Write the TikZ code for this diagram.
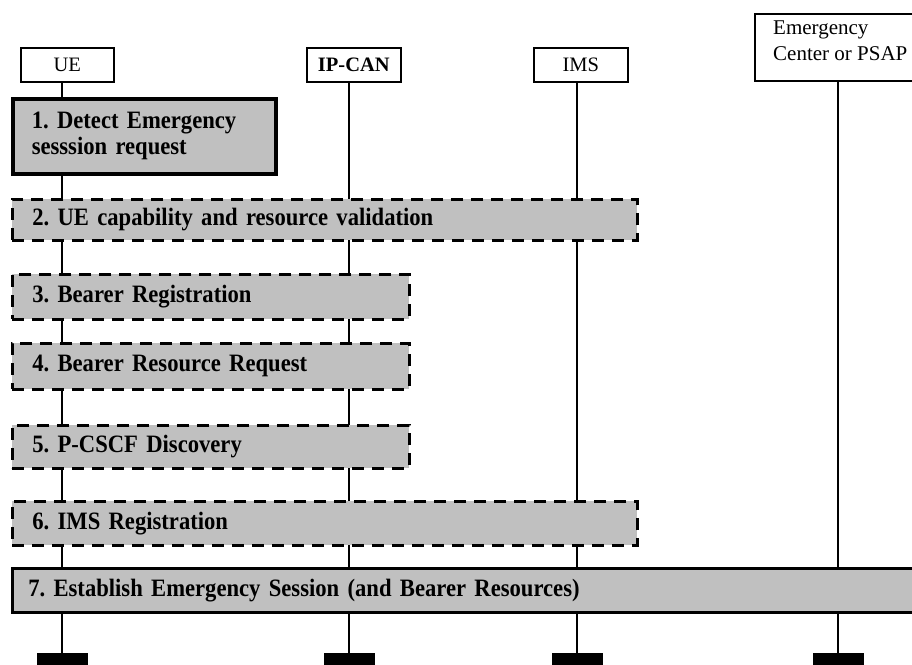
\documentclass[tikz,border=0pt]{standalone}
\usepackage{fontspec}
\setmainfont{Liberation Serif}
\newfontfamily\stepfont[FakeStretch=0.905]{Liberation Serif}
\frenchspacing
\begin{document}
\begin{tikzpicture}[x=1pt,y=-1pt,
  head/.style={draw, line width=1.6pt, fill=white, minimum height=34pt, inner sep=0pt, font=\fontsize{20.5}{24}\selectfont},
  life/.style={line width=1.6pt},
  bar/.style={fill=black, draw=none, minimum width=51pt, minimum height=14pt, inner sep=0pt, anchor=north},
  stepbox/.style={fill=gray75, anchor=north west, inner xsep=0pt, inner ysep=0pt, align=left,
     font=\stepfont\fontsize{25}{26}\selectfont\bfseries},
  dashbox/.style={stepbox, draw, line width=2.6pt, dash pattern=on 12pt off 8pt},
  solidbox/.style={stepbox, draw, line width=2.6pt}
]
\definecolor{gray75}{HTML}{C0C0C0}
\useasboundingbox (0,0) rectangle (912,664);
% heads
\node[head, minimum width=93pt, anchor=north west] (ue) at (20,47) {UE};
\node[head, minimum width=94pt, anchor=north west, font=\fontsize{20.5}{24}\selectfont\bfseries] (ipcan) at (306,47) {IP-CAN};
\node[head, minimum width=94pt, anchor=north west] (ims) at (533,47) {IMS};
\node[draw, line width=1.6pt, fill=white, anchor=north west, minimum width=170pt, minimum height=67pt, inner sep=0pt] (psap) at (754,13) {};
\node[anchor=north west, align=left, inner sep=0pt, font=\fontsize{21}{26}\selectfont] (psaptxt) at (773,21) {Emergency\\Center or PSAP};
% bars
\node[bar] (b1) at (62,653) {};
\node[bar] (b2) at (349,653) {};
\node[bar] (b3) at (577,653) {};
\node[bar] (b4) at (838,653) {};
% lifelines
\draw[life] (b1 |- ue.south) -- (b1.north);
\draw[life] (b2 |- ipcan.south) -- (b2.north);
\draw[life] (b3 |- ims.south) -- (b3.north);
\draw[life] (b4 |- psap.south) -- (b4.north);
% steps
\node[solidbox, line width=3.5pt, minimum width=263pt, minimum height=75pt, text width=263pt] (s1) at (11,97)
  {\hspace*{19pt}1. Detect Emergency\\\hspace*{19pt}sesssion request};
\node[dashbox, minimum width=625pt, minimum height=41pt, text width=625pt] (s2) at (11,198)
  {\hspace*{20pt}2. UE capability and resource validation};
\node[dashbox, minimum width=397pt, minimum height=45pt, text width=397pt] (s3) at (11,273)
  {\hspace*{20pt}3. Bearer Registration};
\node[dashbox, minimum width=397pt, minimum height=46pt, text width=397pt] (s4) at (11,342)
  {\hspace*{20pt}4. Bearer Resource Request};
\node[dashbox, minimum width=397pt, minimum height=43pt, text width=397pt] (s5) at (11,424)
  {\hspace*{20pt}5. P-CSCF Discovery};
\node[dashbox, minimum width=625pt, minimum height=44pt, text width=625pt] (s6) at (11,500)
  {\hspace*{20pt}6. IMS Registration};
\node[solidbox, minimum width=910pt, minimum height=44pt, text width=910pt] (s7) at (11,567)
  {\hspace*{16pt}7. Establish Emergency Session (and Bearer Resources)};
\end{tikzpicture}
\end{document}
